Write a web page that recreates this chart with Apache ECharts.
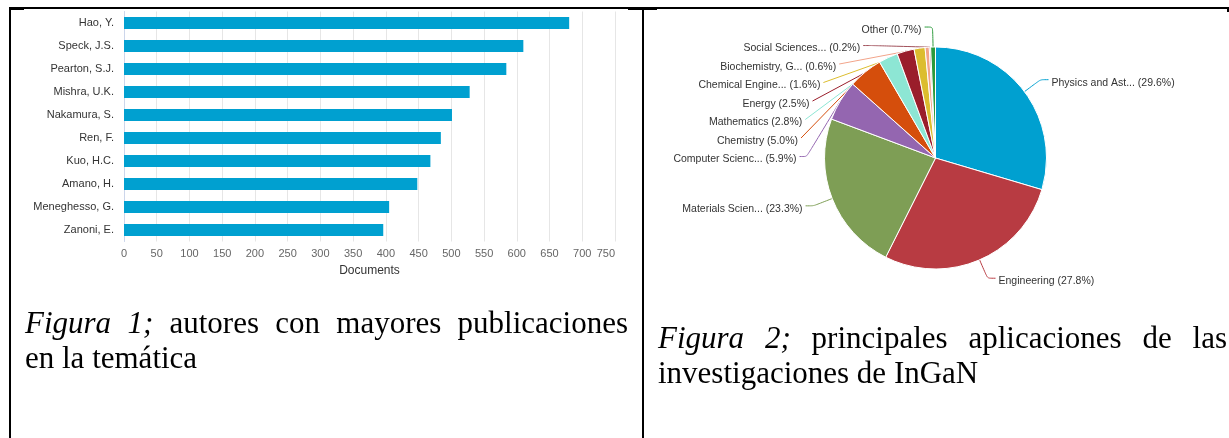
<!DOCTYPE html>
<html>
<head>
<meta charset="utf-8">
<script src="https://cdn.jsdelivr.net/npm/echarts@6/dist/echarts.min.js"></script>
<style>
  html, body { margin:0; padding:0; background:#fff; }
  #wrap { position:relative; width:1229px; height:438px; overflow:hidden; }
  #chart { position:absolute; left:0; top:0; width:1229px; height:438px; }
  .ln { position:absolute; background:#000; }
  .cap { position:absolute; font-family:"Liberation Serif","Times New Roman",serif; font-size:31px; line-height:35px; color:#000; }
  .j { text-align:justify; text-align-last:justify; }
  i { font-style:italic; }
</style>
</head>
<body>
<div id="wrap">
  <div id="chart"></div>
  <div class="ln" style="left:10px;top:7px;width:1219px;height:2px;"></div>
  <div class="ln" style="left:9px;top:7px;width:2px;height:431px;"></div>
  <div class="ln" style="left:642px;top:7px;width:2px;height:431px;"></div>
  <div class="ln" style="left:1227px;top:7px;width:2px;height:5px;"></div>
  <div class="ln" style="left:10px;top:9px;width:14px;height:1px;"></div>
  <div class="ln" style="left:628px;top:9px;width:29px;height:1px;"></div>
  <div class="cap" style="left:25px;top:305px;width:603px;">
    <div class="j"><i>Figura 1;</i> autores con mayores publicaciones</div>
    <div>en la temática</div>
  </div>
  <div class="cap" style="left:658px;top:320px;width:569px;">
    <div class="j"><i>Figura 2;</i> principales aplicaciones de las</div>
    <div>investigaciones de InGaN</div>
  </div>
</div>
<script>
// ---- Data ----
const authors = ["Hao, Y.", "Speck, J.S.", "Pearton, S.J.", "Mishra, U.K.", "Nakamura, S.", "Ren, F.", "Kuo, H.C.", "Amano, H.", "Meneghesso, G.", "Zanoni, E."];
const documents = [680, 610, 584, 528, 501, 484, 468, 448, 405, 396];
const xTickMax = 750;
const xTickStep = 50;

const areas = ["Physics and Ast...", "Engineering", "Materials Scien...", "Computer Scienc...", "Chemistry", "Mathematics", "Energy", "Chemical Engine...", "Biochemistry, G...", "Social Sciences...", "Other"];
const areaShare = [29.6, 27.8, 23.3, 5.9, 5.0, 2.8, 2.5, 1.6, 0.6, 0.2, 0.7];
const areaColors = ["#00a0d0", "#b83b42", "#7e9e55", "#9466b0", "#d54e0c", "#8de6d4", "#9a1e2b", "#dcbd2f", "#f2a48a", "#a0505a", "#2b9a3b"];

const chart = echarts.init(document.getElementById('chart'), null, {renderer: 'canvas'});
const sans = '"Liberation Sans", Arial, sans-serif';

chart.setOption({
  animation: false,
  backgroundColor: 'transparent',
  grid: { left: 124, right: 614, top: 11.5, bottom: 196.5, containLabel: false },
  xAxis: {
    type: 'value', min: 0, max: xTickMax, interval: xTickStep,
    name: 'Documents', nameLocation: 'middle', nameGap: 22,
    nameTextStyle: { color: '#333', fontSize: 12, fontFamily: sans },
    axisLine: { show: false }, axisTick: { show: false },
    axisLabel: { color: '#666', fontSize: 11, fontFamily: sans, margin: 7, alignMaxLabel: 'right' },
    splitLine: { show: true, lineStyle: { color: '#e6e6e6', width: 1 } }
  },
  yAxis: {
    type: 'category', data: authors, inverse: true,
    axisLine: { show: true, lineStyle: { color: '#ccd6eb', width: 1 } },
    axisTick: { show: false },
    axisLabel: { color: '#333', fontSize: 11, fontFamily: sans, margin: 10 },
    splitLine: { show: false }
  },
  series: [
    {
      type: 'bar', data: documents, barWidth: 12,
      itemStyle: { color: '#00a0d0' }
    },
    {
      type: 'pie',
      center: [935.5, 158], radius: 111,
      startAngle: 90, clockwise: true,
      data: areas.map((n, i) => ({ name: n, value: areaShare[i], itemStyle: { color: areaColors[i] } })),
      itemStyle: { borderColor: '#fff', borderWidth: 1 },
      label: {
        show: true, fontSize: 10.5, lineHeight: 10.5, padding: [6, 0, 0, 0], fontFamily: sans, color: '#333',
        formatter: p => p.name + ' (' + p.value.toFixed(1) + '%)',
        distanceToLabelLine: 3
      },
      labelLine: { show: true, length: 20, length2: 8, smooth: 0.2, lineStyle: { width: 1 } },
      labelLayout: { dy: 3 },
      avoidLabelOverlap: true
    }
  ]
});
</script>
</body>
</html>
